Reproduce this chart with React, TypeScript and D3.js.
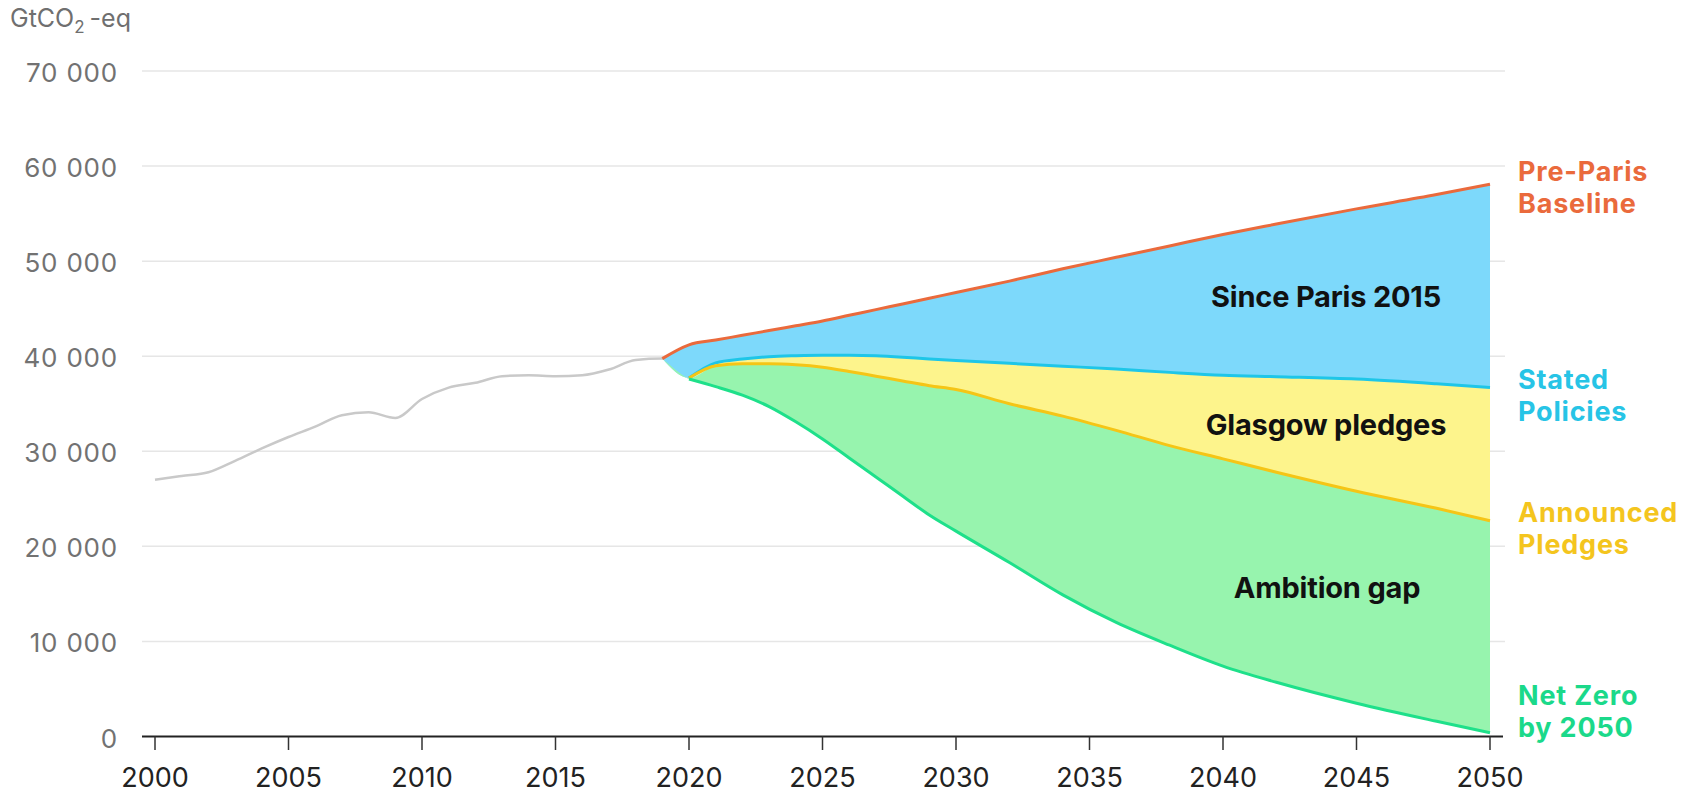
import React from "react";
import * as d3 from "d3";

// historical emissions, GtCO2-eq (axis as labelled)
const histYears = [2000, 2001, 2002, 2003, 2004, 2005, 2006, 2007, 2008, 2009, 2010, 2011, 2012, 2013, 2014, 2015, 2016, 2017, 2018, 2019, 2020];
const histValues = [27000, 27400, 27800, 29000, 30300, 31500, 32600, 33800, 34100, 33500, 35500, 36700, 37200, 37900, 38000, 37900, 38000, 38600, 39600, 39750, 37700];

// scenario years (shared by all four scenarios)
const scenYears = [2019, 2020, 2021, 2022, 2023, 2024, 2025, 2026, 2027, 2028, 2029, 2030, 2032, 2034, 2036, 2038, 2040, 2042, 2045, 2048, 2050];
const preParis = [39750, 41200, 41700, 42200, 42700, 43200, 43700, 44300, 44900, 45500, 46100, 46700, 47900, 49200, 50400, 51600, 52800, 53900, 55500, 57000, 58100];
const statedPolicies = [39750, 37700, 39300, 39700, 39950, 40050, 40100, 40100, 40050, 39900, 39700, 39550, 39250, 38950, 38650, 38300, 38000, 37850, 37600, 37100, 36700];
const announcedPledges = [39750, 37700, 39000, 39200, 39200, 39100, 38850, 38400, 37900, 37400, 36900, 36500, 35000, 33700, 32200, 30600, 29200, 27800, 25800, 24000, 22700];
const netZero = [39750, 37600, 36800, 35900, 34700, 33100, 31300, 29300, 27300, 25300, 23300, 21600, 18300, 14900, 12000, 9600, 7400, 5700, 3500, 1600, 400];

const yTicks = [0, 10000, 20000, 30000, 40000, 50000, 60000, 70000];
const xTicks = [2000, 2005, 2010, 2015, 2020, 2025, 2030, 2035, 2040, 2045, 2050];

const W = 1701;
const H = 793;
const FONT = "Inter, 'Noto Sans', sans-serif";

const x = d3.scaleLinear().domain([2000, 2050]).range([155, 1490]);
const y = d3.scaleLinear().domain([0, 70000]).range([736.5, 71]);

const fmt = (v: number) => (v === 0 ? "0" : d3.format(",")(v).replace(/,/g, " "));

type Pt = { yr: number; v: number };
const pts = (years: number[], vals: number[]): Pt[] => years.map((yr, i) => ({ yr, v: vals[i] }));

const line = d3
  .line<Pt>()
  .x((d) => x(d.yr))
  .y((d) => y(d.v))
  .curve(d3.curveMonotoneX);

type Band = { yr: number; lo: number; hi: number };
const band = (hi: number[], lo: number[]): Band[] =>
  scenYears.map((yr, i) => ({ yr, lo: lo[i], hi: hi[i] }));

const area = d3
  .area<Band>()
  .x((d) => x(d.yr))
  .y0((d) => y(d.lo))
  .y1((d) => y(d.hi))
  .curve(d3.curveMonotoneX);

const App: React.FC = () => {
  const history = pts(histYears, histValues);
  const fromYear = (vals: number[], start: number) =>
    pts(scenYears, vals).filter((d) => d.yr >= start);

  const labelsRight = [
    { lines: ["Pre-Paris", "Baseline"], color: "#ea6a3c", y: 181 },
    { lines: ["Stated", "Policies"], color: "#27c4e6", y: 389 },
    { lines: ["Announced", "Pledges"], color: "#f4c51e", y: 522 },
    { lines: ["Net Zero", "by 2050"], color: "#1bd98a", y: 705 },
  ];

  return (
    <svg
      width={W}
      height={H}
      style={{ position: "absolute", left: 0, top: 0, display: "block", background: "#fff" }}
      fontFamily={FONT}
    >
      {/* y unit */}
      <text x={10} y={27} fontSize={25} fill="#6f6f6f">
        GtCO<tspan fontSize={17} dy={6}>2</tspan>
        <tspan dy={-6} dx={5}>-eq</tspan>
      </text>

      {/* gridlines + y labels */}
      {yTicks.map((t) => (
        <g key={t}>
          {t > 0 && <line x1={142} x2={1505} y1={y(t)} y2={y(t)} stroke="#e6e6e6" strokeWidth={1.5} />}
          <text x={118} y={y(t) + 11} textAnchor="end" fontSize={26} fill="#727272" letterSpacing={0.8}>
            {fmt(t)}
          </text>
        </g>
      ))}

      {/* historical */}
      <path d={line(history) || ""} fill="none" stroke="#c9c9c9" strokeWidth={2.5} />

      {/* scenario bands */}
      <path d={area(band(preParis, statedPolicies)) || ""} fill="#7dd9fb" />
      <path d={area(band(statedPolicies, announcedPledges)) || ""} fill="#fdf48c" />
      <path d={area(band(announcedPledges, netZero)) || ""} fill="#97f4ae" />

      {/* scenario lines */}
      <path d={line(fromYear(preParis, 2019)) || ""} fill="none" stroke="#ea6a3c" strokeWidth={3} />
      <path d={line(fromYear(statedPolicies, 2020)) || ""} fill="none" stroke="#1ec6e8" strokeWidth={3} />
      <path d={line(fromYear(announcedPledges, 2020)) || ""} fill="none" stroke="#f5c516" strokeWidth={3} />
      <path d={line(fromYear(netZero, 2020)) || ""} fill="none" stroke="#1ee08a" strokeWidth={3} />

      {/* band labels */}
      <g fontWeight={700} fontSize={29} fill="#111" textAnchor="middle" letterSpacing={-0.2}>
        <text x={1326} y={307}>Since Paris 2015</text>
        <text x={1326} y={435}>Glasgow pledges</text>
        <text x={1327} y={598}>Ambition gap</text>
      </g>

      {/* right labels */}
      {labelsRight.map((l) => (
        <text
          key={l.lines[0]}
          x={1518}
          y={l.y}
          fontSize={27}
          fontWeight={700}
          fill={l.color}
          letterSpacing={0.8}
        >
          <tspan x={1518}>{l.lines[0]}</tspan>
          <tspan x={1518} dy={32}>
            {l.lines[1]}
          </tspan>
        </text>
      ))}

      {/* x axis */}
      <line x1={142} x2={1503} y1={736.5} y2={736.5} stroke="#222" strokeWidth={2} />
      {xTicks.map((t) => (
        <g key={t}>
          <line x1={x(t)} x2={x(t)} y1={736.5} y2={750} stroke="#333" strokeWidth={1.5} />
          <text x={x(t)} y={787} textAnchor="middle" fontSize={27} fill="#222">
            {t}
          </text>
        </g>
      ))}
    </svg>
  );
};

export default App;
